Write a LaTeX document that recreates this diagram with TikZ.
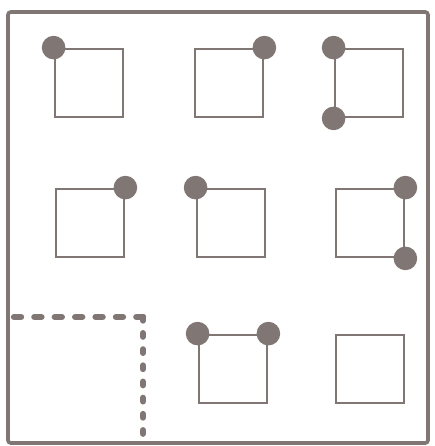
\documentclass[tikz,border=0pt]{standalone}

\definecolor{tinta}{RGB}{128,118,116}
\tikzset{
	casilla/.style={draw=tinta, line width=1.4pt, minimum size=1.72cm, inner sep=0pt},
	punto/.style={circle, fill=tinta, minimum size=0.59cm, inner sep=0pt},
	trazos/.style={draw=tinta, line width=4.5pt, line cap=round},
}

\begin{document}
\begin{tikzpicture}[x=0.025cm, y=-0.025cm]

    \useasboundingbox (0,0) rectangle (434,446);

% Marco
	\draw[tinta, line width=2.6pt, rounded corners=2pt] (8,12) rectangle (428,443);

% Casillas
	\foreach \nombre/\x/\y in {a/89/83, b/229/83, c/369/83, d/90/223, e/231/223, f/370/223, h/233/369, i/370/369}
		\node[casilla] (\nombre) at (\x,\y) {};

% Puntos
	\foreach \esquina [count=\k] in {a.north west, b.north east, c.north west, c.south west, d.north east, e.north west, f.north east, f.south east, h.north west, h.north east}
		\node[punto] (p\k) at (\esquina) {};

% Zona punteada
	\coordinate (z1) at (14,317);
	\coordinate (z2) at (143,317);
	\coordinate (z3) at (143,440);
	\draw[trazos, dash pattern=on 5pt off 9.5pt] (z1) -- (z2);
	\draw[trazos, dash pattern=on 2.5pt off 9pt] (z2) -- (z3);
\end{tikzpicture}
\end{document}
